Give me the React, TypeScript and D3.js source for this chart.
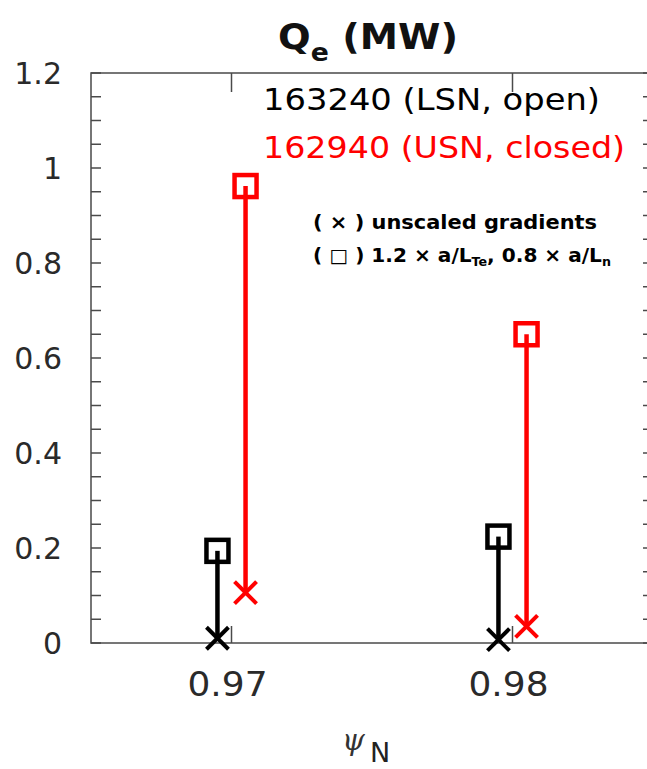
import React from "react";
import * as d3 from "d3";

// Radial locations (normalized flux) and electron heat flux values (MW)
const psiN = [0.97, 0.98];
const openUnscaled = [0.01, 0.007];
const openScaled = [0.194, 0.224];
const closedUnscaled = [0.106, 0.035];
const closedScaled = [0.962, 0.65];

const yTickLabels = [0, 0.2, 0.4, 0.6, 0.8, 1, 1.2];
const xTickLabels = [0.97, 0.98];
const seriesNames = ["163240 (LSN, open)", "162940 (USN, closed)"];
const seriesColors = ["#000000", "#ff0000"];

const W = 647;
const H = 769;
const left = 91;
const right = 653;
const top = 73;
const bottom = 643;
const offset = 0.0005;

export default function App() {
  const x = d3.scaleLinear().domain([0.965, 0.985]).range([left, right]);
  const y = d3.scaleLinear().domain([0, 1.2]).range([bottom, top]);
  const minorTicks = d3.range(0, 1.2001, 0.05);
  const axisColor = "#4a4a4a";
  const tickFont = "'DejaVu Sans', sans-serif";

  const series = [
    { dx: -offset, lo: openUnscaled, hi: openScaled, color: seriesColors[0] },
    { dx: offset, lo: closedUnscaled, hi: closedScaled, color: seriesColors[1] },
  ];

  const sq = 11;
  const xm = 11;

  return (
    <svg
      width={W}
      height={H}
      style={{ position: "absolute", left: 0, top: 0, background: "#fff" }}
    >
      <rect x={0} y={0} width={W} height={H} fill="#fff" />
      {/* frame */}
      <rect
        x={left}
        y={top}
        width={right - left}
        height={bottom - top}
        fill="none"
        stroke={axisColor}
        strokeWidth={1.5}
      />
      {/* y ticks, both sides */}
      {minorTicks.map((v, i) => (
        <g key={"yt" + i}>
          <line x1={left} x2={left + 10} y1={y(v)} y2={y(v)} stroke={axisColor} strokeWidth={1.5} />
          <line x1={right} x2={right - 10} y1={y(v)} y2={y(v)} stroke={axisColor} strokeWidth={1.5} />
        </g>
      ))}
      {yTickLabels.map((v) => (
        <text
          key={"yl" + v}
          x={left - 29}
          y={y(v)}
          dy="0.36em"
          textAnchor="end"
          fontFamily={tickFont}
          fontSize={30}
          fill="#2a2a2a"
        >
          {String(v)}
        </text>
      ))}
      {/* x ticks, top and bottom */}
      {xTickLabels.map((v) => (
        <g key={"xt" + v}>
          <line x1={x(v)} x2={x(v)} y1={bottom} y2={bottom - 17} stroke={axisColor} strokeWidth={1.5} />
          <line x1={x(v)} x2={x(v)} y1={top} y2={top + 19} stroke={axisColor} strokeWidth={1.5} />
          <text
            x={x(v) - 4}
            y={684}
            dy="0.36em"
            textAnchor="middle"
            fontFamily={tickFont}
            fontSize={33}
            textLength={80}
            lengthAdjust="spacingAndGlyphs"
            fill="#2a2a2a"
          >
            {v.toFixed(2)}
          </text>
        </g>
      ))}

      {/* scan stems: unscaled (×) to scaled (□) */}
      {series.map((s, si) =>
        psiN.map((p, i) => {
          const cx = x(p + s.dx);
          const y0 = y(s.lo[i]);
          const y1 = y(s.hi[i]);
          return (
            <g key={"s" + si + "-" + i} stroke={s.color} fill="none">
              <line x1={cx} x2={cx} y1={y0} y2={y1} strokeWidth={4.5} />
              <rect x={cx - sq} y={y1 - sq} width={2 * sq} height={2 * sq} strokeWidth={4.5} />
              <line x1={cx - xm} x2={cx + xm} y1={y0 - xm} y2={y0 + xm} strokeWidth={4} />
              <line x1={cx - xm} x2={cx + xm} y1={y0 + xm} y2={y0 - xm} strokeWidth={4} />
            </g>
          );
        })
      )}

      {/* title */}
      <text
        x={278}
        y={49}
        fontFamily={tickFont}
        fontWeight="bold"
        fontSize={36}
        textLength={180}
        lengthAdjust="spacingAndGlyphs"
        fill="#111"
      >
        Q
        <tspan fontSize={25} dy={12}>e</tspan>
        <tspan dy={-12}> (MW)</tspan>
      </text>

      {/* legend */}
      {seriesNames.map((n, i) => (
        <text
          key={n}
          x={263}
          y={110 + i * 48}
          fontFamily={tickFont}
          fontSize={30}
          textLength={i === 0 ? 337 : 362}
          lengthAdjust="spacingAndGlyphs"
          fill={seriesColors[i]}
        >
          {n}
        </text>
      ))}

      {/* marker annotation */}
      <g fontFamily="'DejaVu Sans', sans-serif" fontWeight="bold" fontSize={19} fill="#000">
        <text x={313} y={229} textLength={284} lengthAdjust="spacingAndGlyphs">
          ( × ) unscaled gradients
        </text>
        <text x={313} y={262} textLength={298} lengthAdjust="spacingAndGlyphs">
          ( □ ) 1.2 × a/L
          <tspan fontSize={12} dy={4}>Te</tspan>
          <tspan dy={-4}>, 0.8 × a/L</tspan>
          <tspan fontSize={12} dy={4}>n</tspan>
        </text>
      </g>

      {/* x label */}
      <text x={342} y={750} fontFamily="'DejaVu Serif', serif" fontStyle="italic" fontSize={29} fill="#333">
        ψ
      </text>
      <text x={370} y={762} fontFamily={tickFont} fontSize={27} fill="#222">
        N
      </text>
    </svg>
  );
}
